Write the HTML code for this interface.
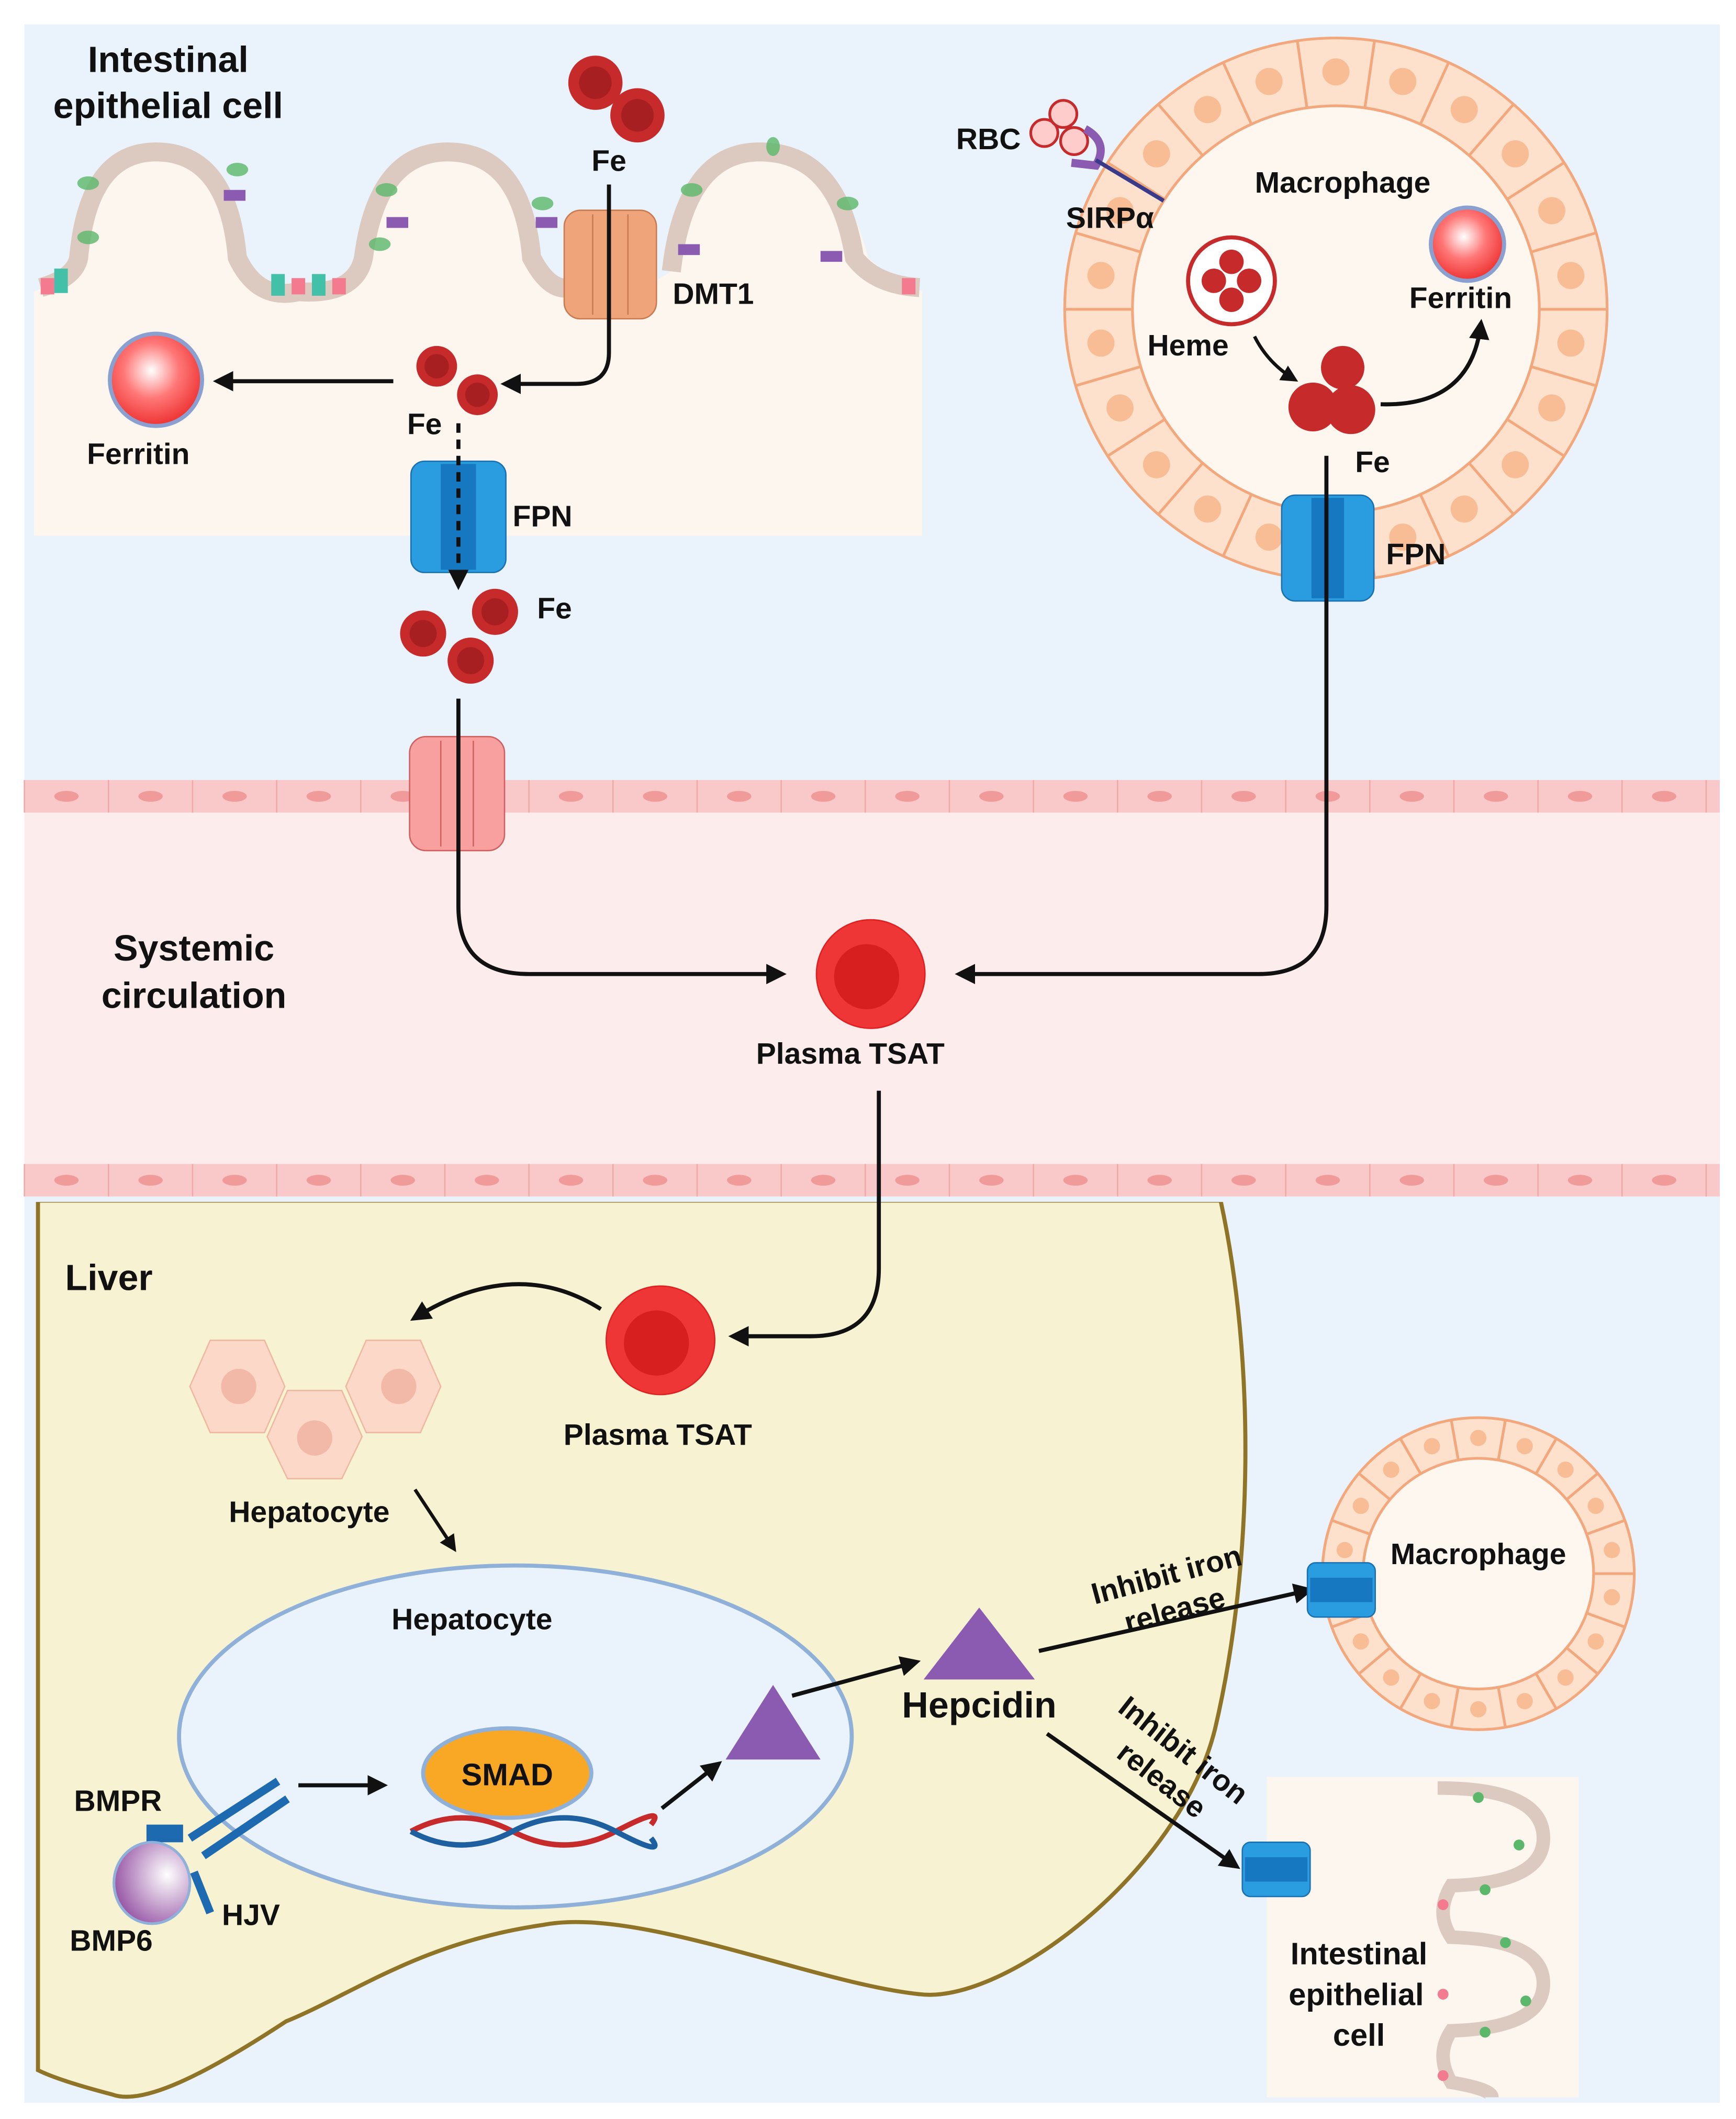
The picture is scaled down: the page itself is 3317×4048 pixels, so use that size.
<!DOCTYPE html>
<html><head><meta charset="utf-8"><style>
html,body{margin:0;padding:0;background:#fff}
svg{display:block}
text{font-family:"Liberation Sans",sans-serif;font-weight:bold;fill:#111}
</style></head><body>
<svg id="s" width="3317" height="4048" viewBox="0 0 1280 1562" preserveAspectRatio="none" xmlns="http://www.w3.org/2000/svg">
<defs>
<radialGradient id="fer" cx="0.45" cy="0.4" r="0.6"><stop offset="0" stop-color="#fff"/><stop offset="0.5" stop-color="#f77"/><stop offset="1" stop-color="#e33"/></radialGradient>
<radialGradient id="bmp" cx="0.7" cy="0.4" r="0.7"><stop offset="0" stop-color="#fff"/><stop offset="1" stop-color="#9a5aa8"/></radialGradient>
<marker id="ah" viewBox="0 0 10 10" refX="8" refY="5" markerWidth="5" markerHeight="5" orient="auto"><path d="M0,0L10,5L0,10z" fill="#111"/></marker>
</defs>
<rect x="18" y="18" width="1250" height="1532" fill="#eaf3fb"/>
<!-- intestinal top -->
<path d="M25,215 L25,395 L680,395 L680,215 Q650,200 640,190 Q620,110 560,110 Q500,110 495,200 L470,215 L420,215 Q400,200 395,190 Q385,110 330,110 Q275,110 270,190 Q260,220 215,215 Q185,210 180,190 Q170,110 115,110 Q60,110 55,190 Q40,210 25,215Z" fill="#fdf6ee"/>
<path d="M30,212 Q55,205 58,190 Q65,112 115,112 Q168,112 175,190 Q190,222 220,215 Q262,218 268,190 Q278,112 330,112 Q385,112 392,190 Q405,215 420,212 M495,200 Q505,112 560,112 Q618,112 630,190 Q645,210 678,212" fill="none" stroke="#dcc9bf" stroke-width="14"/>
<g fill="#5bb86a" opacity="0.8"><ellipse cx="65" cy="135" rx="8" ry="5"/><ellipse cx="65" cy="175" rx="8" ry="5"/><ellipse cx="175" cy="125" rx="8" ry="5"/><ellipse cx="285" cy="140" rx="8" ry="5"/><ellipse cx="280" cy="180" rx="8" ry="5"/><ellipse cx="400" cy="150" rx="8" ry="5"/><ellipse cx="510" cy="140" rx="8" ry="5"/><ellipse cx="625" cy="150" rx="8" ry="5"/><ellipse cx="570" cy="108" rx="5" ry="7"/></g>
<g fill="#8a5bb0"><rect x="165" y="140" width="16" height="8"/><rect x="285" y="160" width="16" height="8"/><rect x="395" y="160" width="16" height="8"/><rect x="500" y="180" width="16" height="8"/><rect x="605" y="185" width="16" height="8"/></g>
<g fill="#42c0a8"><rect x="40" y="198" width="10" height="18"/><rect x="200" y="202" width="10" height="16"/><rect x="230" y="202" width="10" height="16"/></g>
<g fill="#f47a90"><rect x="30" y="205" width="10" height="12"/><rect x="215" y="205" width="10" height="12"/><rect x="245" y="205" width="10" height="12"/><rect x="665" y="205" width="10" height="12"/></g>
<text x="124" y="53" font-size="27" text-anchor="middle">Intestinal</text>
<text x="124" y="87" font-size="27" text-anchor="middle">epithelial cell</text>
<!-- Fe top -->
<circle cx="439" cy="61" r="20" fill="#c62a2a"/><circle cx="439" cy="61" r="12" fill="#a81f22"/>
<circle cx="470" cy="85" r="20" fill="#c62a2a"/><circle cx="470" cy="85" r="12" fill="#a81f22"/>
<text x="449" y="126" font-size="22" text-anchor="middle">Fe</text>
<!-- DMT1 -->
<rect x="416" y="155" width="68" height="80" rx="12" fill="#f0a47a" stroke="#c97a50"/>
<line x1="437" y1="158" x2="437" y2="232" stroke="#c97a50"/><line x1="463" y1="158" x2="463" y2="232" stroke="#c97a50"/>
<text x="496" y="224" font-size="22">DMT1</text>
<path d="M449,136 L449,260 Q449,283 425,283 L372,283" fill="none" stroke="#111" stroke-width="3" marker-end="url(#ah)"/>
<line x1="290" y1="281" x2="160" y2="281" stroke="#111" stroke-width="3" marker-end="url(#ah)"/>
<circle cx="115" cy="280" r="34" fill="url(#fer)" stroke="#8aa0d0" stroke-width="3"/>
<text x="102" y="342" font-size="22" text-anchor="middle">Ferritin</text>
<circle cx="322" cy="270" r="15" fill="#c62a2a"/><circle cx="322" cy="270" r="9" fill="#a81f22"/>
<circle cx="352" cy="291" r="15" fill="#c62a2a"/><circle cx="352" cy="291" r="9" fill="#a81f22"/>
<text x="313" y="320" font-size="22" text-anchor="middle">Fe</text>
<!-- FPN intestinal -->
<rect x="303" y="340" width="70" height="82" rx="10" fill="#2a9de0" stroke="#1a70b0"/>
<rect x="325" y="342" width="26" height="78" fill="#1678c0"/>
<line x1="338" y1="312" x2="338" y2="432" stroke="#111" stroke-width="3" stroke-dasharray="7,5" marker-end="url(#ah)"/>
<text x="378" y="388" font-size="22">FPN</text>
<circle cx="365" cy="451" r="17" fill="#c62a2a"/><circle cx="365" cy="451" r="10" fill="#a81f22"/>
<circle cx="312" cy="467" r="17" fill="#c62a2a"/><circle cx="312" cy="467" r="10" fill="#a81f22"/>
<circle cx="347" cy="487" r="17" fill="#c62a2a"/><circle cx="347" cy="487" r="10" fill="#a81f22"/>
<text x="396" y="456" font-size="22">Fe</text>
<!-- vessel -->
<rect x="18" y="575" width="1250" height="307" fill="#fdecec"/>
<rect x="18" y="575" width="1250" height="24" fill="#f9c8c8"/>
<rect x="18" y="858" width="1250" height="24" fill="#f9c8c8"/>
<g id="endo"></g>
<rect x="302" y="543" width="70" height="84" rx="12" fill="#f8a0a0" stroke="#d06060"/>
<line x1="325" y1="546" x2="325" y2="624" stroke="#d06060"/><line x1="349" y1="546" x2="349" y2="624" stroke="#d06060"/>
<path d="M338,515 L338,668 Q338,718 390,718 L577,718" fill="none" stroke="#111" stroke-width="3" marker-end="url(#ah)"/>
<text x="143" y="708" font-size="27" text-anchor="middle">Systemic</text>
<text x="143" y="743" font-size="27" text-anchor="middle">circulation</text>
<circle cx="642" cy="718" r="40" fill="#ef3636" stroke="#e02020"/><circle cx="639" cy="720" r="24" fill="#d81f1f"/>
<text x="627" y="784" font-size="22" text-anchor="middle">Plasma TSAT</text>
<!-- macrophage top -->
<circle cx="985" cy="228" r="200" fill="#fde1cc" stroke="#f2a77c" stroke-width="2"/>
<g id="ring1"></g>
<circle cx="985" cy="228" r="150" fill="#fdf7ef" stroke="#f2a77c" stroke-width="2"/>
<text x="990" y="142" font-size="22" text-anchor="middle">Macrophage</text>
<circle cx="1082" cy="180" r="27" fill="url(#fer)" stroke="#8aa0d0" stroke-width="3"/>
<text x="1077" y="227" font-size="22" text-anchor="middle">Ferritin</text>
<circle cx="908" cy="207" r="32" fill="#fff" stroke="#c62a2a" stroke-width="3"/>
<g fill="#c62a2a"><circle cx="908" cy="193" r="9"/><circle cx="895" cy="207" r="9"/><circle cx="921" cy="207" r="9"/><circle cx="908" cy="221" r="9"/></g>
<text x="876" y="262" font-size="22" text-anchor="middle">Heme</text>
<path d="M925,248 Q935,268 955,280" fill="none" stroke="#111" stroke-width="2.5" marker-end="url(#ah)"/>
<circle cx="990" cy="271" r="16" fill="#c62a2a"/><circle cx="968" cy="300" r="18" fill="#c62a2a"/><circle cx="996" cy="302" r="18" fill="#c62a2a"/>
<path d="M1018,298 Q1085,300 1092,238" fill="none" stroke="#111" stroke-width="3" marker-end="url(#ah)"/>
<text x="1012" y="348" font-size="22" text-anchor="middle">Fe</text>
<rect x="945" y="365" width="68" height="78" rx="10" fill="#2a9de0" stroke="#1a70b0"/>
<rect x="967" y="367" width="24" height="74" fill="#1678c0"/>
<text x="1022" y="416" font-size="22">FPN</text>
<path d="M978,336 L978,668 Q978,718 928,718 L707,718" fill="none" stroke="#111" stroke-width="3" marker-end="url(#ah)"/>
<!-- RBC -->
<circle cx="770" cy="98" r="10" fill="#fcc" stroke="#c62a2a" stroke-width="2"/><circle cx="784" cy="84" r="10" fill="#fcc" stroke="#c62a2a" stroke-width="2"/><circle cx="792" cy="104" r="10" fill="#fcc" stroke="#c62a2a" stroke-width="2"/>
<path d="M800,95 Q818,105 808,122 L790,120" fill="none" stroke="#8a5bb0" stroke-width="6"/>
<line x1="808" y1="118" x2="858" y2="148" stroke="#3a3a8a" stroke-width="3"/>
<text x="705" y="110" font-size="22">RBC</text>
<text x="786" y="168" font-size="22">SIRPα</text>
<!-- liver -->
<path d="M28,885 L900,885 C925,1000 925,1150 896,1274 C870,1380 740,1478 678,1470 C600,1462 470,1405 400,1419 C310,1432 260,1470 211,1490 C150,1530 105,1552 83,1544 C60,1538 40,1532 28,1526 Z" fill="#f6f2d2" stroke="#8f7428" stroke-width="3"/>
<rect x="18" y="882" width="1250" height="4" fill="#eaf3fb"/>
<text x="48" y="951" font-size="27">Liver</text>
<path d="M648,804 L648,935 Q648,985 598,985 L540,985" fill="none" stroke="#111" stroke-width="3" marker-end="url(#ah)"/>
<circle cx="487" cy="988" r="40" fill="#ef3636" stroke="#e02020"/><circle cx="484" cy="990" r="24" fill="#d81f1f"/>
<text x="485" y="1065" font-size="22" text-anchor="middle">Plasma TSAT</text>
<path d="M443,965 Q380,925 305,972" fill="none" stroke="#111" stroke-width="3" marker-end="url(#ah)"/>
<g fill="#fbd8c8" stroke="#f0b8a0"><polygon points="155,988 195,988 210,1022 195,1056 155,1056 140,1022"/><polygon points="270,988 310,988 325,1022 310,1056 270,1056 255,1022"/><polygon points="212,1025 252,1025 267,1059 252,1090 212,1090 197,1059"/></g>
<g fill="#f2b8a8"><circle cx="176" cy="1022" r="13"/><circle cx="294" cy="1022" r="13"/><circle cx="232" cy="1060" r="13"/></g>
<text x="228" y="1122" font-size="22" text-anchor="middle">Hepatocyte</text>
<line x1="306" y1="1098" x2="335" y2="1142" stroke="#111" stroke-width="2.5" marker-end="url(#ah)"/>
<ellipse cx="380" cy="1280" rx="248" ry="126" fill="#eaf3fb" stroke="#8fb0d8" stroke-width="3"/>
<text x="348" y="1201" font-size="22" text-anchor="middle">Hepatocyte</text>
<ellipse cx="374" cy="1307" rx="62" ry="33" fill="#f9a825" stroke="#8fb0d8" stroke-width="3"/>
<text x="374" y="1316" font-size="23" text-anchor="middle">SMAD</text>
<path d="M303,1350 Q340,1330 378,1350 T454,1350 T480,1345" fill="none" stroke="#c62a2a" stroke-width="4"/>
<path d="M303,1350 Q340,1370 378,1350 T454,1350 T480,1355" fill="none" stroke="#1e5fa0" stroke-width="4"/>
<line x1="220" y1="1316" x2="283" y2="1316" stroke="#111" stroke-width="3" marker-end="url(#ah)"/>
<line x1="488" y1="1333" x2="530" y2="1300" stroke="#111" stroke-width="3" marker-end="url(#ah)"/>
<polygon points="570,1242 605,1297 535,1297" fill="#8a5bb0"/>
<line x1="584" y1="1250" x2="676" y2="1225" stroke="#111" stroke-width="3" marker-end="url(#ah)"/>
<polygon points="722,1185 763,1238 681,1238" fill="#8a5bb0"/>
<text x="722" y="1266" font-size="27" text-anchor="middle">Hepcidin</text>
<path d="M140,1355 L205,1313 M150,1368 L212,1326 M143,1380 L155,1410" stroke="#1e6ab0" stroke-width="6" fill="none"/>
<path d="M108,1345 L135,1345 L135,1358 L108,1358Z" fill="#1e6ab0"/>
<ellipse cx="112" cy="1388" rx="28" ry="30" fill="url(#bmp)" stroke="#8fb0d8" stroke-width="2"/>
<text x="87" y="1335" font-size="22" text-anchor="middle">BMPR</text>
<text x="82" y="1438" font-size="22" text-anchor="middle">BMP6</text>
<text x="185" y="1419" font-size="22" text-anchor="middle">HJV</text>
<!-- right -->
<line x1="766" y1="1217" x2="966" y2="1172" stroke="#111" stroke-width="3" marker-end="url(#ah)"/>
<line x1="772" y1="1278" x2="912" y2="1376" stroke="#111" stroke-width="3" marker-end="url(#ah)"/>
<text font-size="22" transform="translate(862,1168) rotate(-15)" text-anchor="middle">Inhibit iron</text>
<text font-size="22" transform="translate(868,1194) rotate(-15)" text-anchor="middle">release</text>
<text font-size="22" transform="translate(868,1296) rotate(38)" text-anchor="middle">Inhibit iron</text>
<text font-size="22" transform="translate(852,1318) rotate(38)" text-anchor="middle">release</text>
<circle cx="1090" cy="1160" r="115" fill="#fde1cc" stroke="#f2a77c" stroke-width="2"/>
<g id="ring2"></g>
<circle cx="1090" cy="1160" r="85" fill="#fdf7ef" stroke="#f2a77c" stroke-width="2"/>
<text x="1090" y="1153" font-size="22" text-anchor="middle">Macrophage</text>
<rect x="964" y="1152" width="50" height="40" rx="6" fill="#2a9de0" stroke="#1a70b0"/><rect x="966" y="1163" width="46" height="18" fill="#1678c0"/>
<rect x="934" y="1310" width="230" height="236" fill="#fdf6ee"/>
<path d="M1060,1318 Q1138,1318 1138,1355 Q1138,1388 1070,1390 Q1058,1410 1070,1428 Q1138,1430 1138,1462 Q1138,1495 1070,1497 Q1058,1515 1070,1535 Q1100,1540 1100,1546" fill="none" stroke="#dcc9bf" stroke-width="10"/>
<g fill="#5bb86a"><circle cx="1090" cy="1325" r="4"/><circle cx="1120" cy="1360" r="4"/><circle cx="1095" cy="1393" r="4"/><circle cx="1110" cy="1432" r="4"/><circle cx="1095" cy="1498" r="4"/><circle cx="1125" cy="1475" r="4"/></g>
<g fill="#f47a90"><circle cx="1064" cy="1404" r="4"/><circle cx="1064" cy="1470" r="4"/><circle cx="1064" cy="1530" r="4"/></g>
<rect x="916" y="1358" width="50" height="40" rx="6" fill="#2a9de0" stroke="#1a70b0"/><rect x="918" y="1369" width="46" height="18" fill="#1678c0"/>
<text x="1002" y="1448" font-size="23" text-anchor="middle">Intestinal</text>
<text x="1000" y="1478" font-size="23" text-anchor="middle">epithelial</text>
<text x="1002" y="1508" font-size="23" text-anchor="middle">cell</text>
</svg>
<script>
var NS="http://www.w3.org/2000/svg";
function ring(id,cx,cy,r1,r2,n){var g=document.getElementById(id);for(var i=0;i<n;i++){var a=(i+0.5)*2*Math.PI/n,a1=i*2*Math.PI/n;var l=document.createElementNS(NS,"line");l.setAttribute("x1",cx+r1*Math.cos(a1));l.setAttribute("y1",cy+r1*Math.sin(a1));l.setAttribute("x2",cx+r2*Math.cos(a1));l.setAttribute("y2",cy+r2*Math.sin(a1));l.setAttribute("stroke","#f2a77c");l.setAttribute("stroke-width","2");g.appendChild(l);var c=document.createElementNS(NS,"circle");var rm=(r1+r2)/2;c.setAttribute("cx",cx+rm*Math.cos(a));c.setAttribute("cy",cy+rm*Math.sin(a));c.setAttribute("r",(r2-r1)/5);c.setAttribute("fill","#f9bd95");g.appendChild(c);}}
ring("ring1",985,228,150,200,22);ring("ring2",1090,1160,85,115,18);
var e=document.getElementById("endo");
for(var x=18;x<1268;x+=62){[587,870].forEach(function(y){var c=document.createElementNS(NS,"ellipse");c.setAttribute("cx",x+31);c.setAttribute("cy",y);c.setAttribute("rx",9);c.setAttribute("ry",4);c.setAttribute("fill","#f19a9a");e.appendChild(c);var l=document.createElementNS(NS,"line");l.setAttribute("x1",x);l.setAttribute("x2",x);l.setAttribute("y1",y-12);l.setAttribute("y2",y+12);l.setAttribute("stroke","#eeaaaa");e.appendChild(l);});}
</script>
</body></html>
